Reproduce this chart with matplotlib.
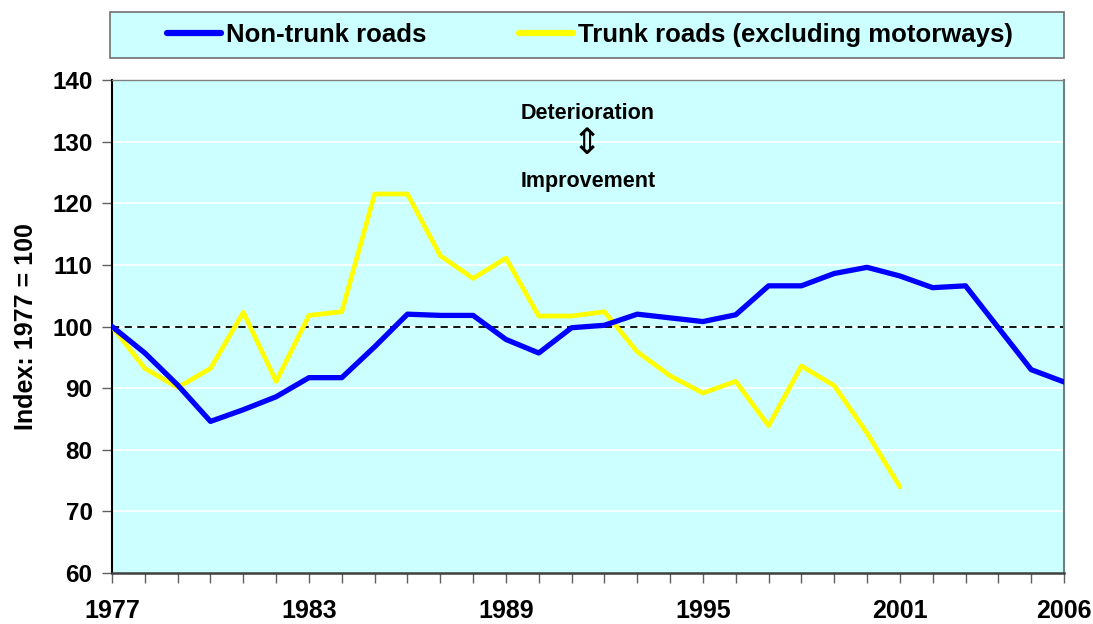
import matplotlib
matplotlib.use("Agg")
import matplotlib.pyplot as plt
from matplotlib.patches import Rectangle

years = list(range(1977, 2007))
non_trunk = [100.0, 95.7, 90.5, 84.6, 86.5, 88.6, 91.7, 91.7, 96.7, 102.0,
             101.8, 101.8, 97.9, 95.7, 99.8, 100.2, 102.0, 101.4, 100.8, 101.9,
             106.6, 106.6, 108.6, 109.6, 108.2, 106.3, 106.6, 99.8, 93.0, 91.0]
trunk_years = list(range(1977, 2002))
trunk = [100.0, 93.2, 90.1, 93.2, 102.3, 91.1, 101.8, 102.4, 121.5, 121.5,
         111.5, 107.8, 111.1, 101.7, 101.7, 102.4, 95.9, 92.0, 89.2, 91.1,
         83.9, 93.6, 90.4, 82.7, 74.0]
xtick_labels = [1977, 1983, 1989, 1995, 2001, 2006]
yticks = [60, 70, 80, 90, 100, 110, 120, 130, 140]
series_names = ["Non-trunk roads", "Trunk roads (excluding motorways)"]

plt.rcParams['font.family'] = ['Liberation Sans', 'DejaVu Sans']
plt.rcParams['font.weight'] = 'bold'

fig = plt.figure(figsize=(10.93, 6.24), dpi=100)
ax = fig.add_axes([112/1093, 1-573/624, (1064-112)/1093, (573-80)/624])
ax.set_facecolor('#CCFFFF')

for y in yticks[1:-1]:
    ax.axhline(y, color='white', lw=1.2, zorder=1)
ax.axhline(100, color='black', lw=1.3, ls=(0, (4, 3)), zorder=2)

l1, = ax.plot(years, non_trunk, color='#0000FF', lw=3.8, zorder=4,
              solid_joinstyle='round', solid_capstyle='round')
l2, = ax.plot(trunk_years, trunk, color='#FFFF00', lw=3.4, zorder=3,
              solid_joinstyle='round', solid_capstyle='round')

ax.set_xlim(1977, 2006)
ax.set_ylim(60, 140)
ax.set_yticks(yticks)
ax.set_xticks(years, minor=True)
ax.set_xticks(xtick_labels)
ax.set_xticklabels([str(v) for v in xtick_labels])
ax.tick_params(axis='x', which='both', length=7, width=1, color='#606060',
               direction='out')
ax.tick_params(axis='x', which='major', labelsize=18, pad=12)
ax.tick_params(axis='y', length=7, width=1, color='#606060', labelsize=17.5, pad=7)

for lab in ax.get_xticklabels() + ax.get_yticklabels():
    lab.set_fontweight('bold')

ax.spines['left'].set_color('black')
ax.spines['left'].set_linewidth(1.5)
ax.spines['bottom'].set_color('#404040')
ax.spines['bottom'].set_linewidth(1.8)
ax.spines['top'].set_color('#808080')
ax.spines['top'].set_linewidth(1.0)
ax.spines['right'].set_color('#708080')
ax.spines['right'].set_linewidth(1.5)

ax.set_ylabel('Index: 1977 = 100', fontsize=18, fontweight='bold', labelpad=10)

ax.text(1991.5, 134.6, 'Deterioration', ha='center', va='center',
        fontsize=15.5, fontweight='bold')
ax.text(1991.5, 123.6, 'Improvement', ha='center', va='center',
        fontsize=15.5, fontweight='bold')
ax.text(1991.45, 129.6, '\u21D5', ha='center', va='center', fontsize=26,
        family='DejaVu Sans', fontweight='normal')

# legend box
rect = Rectangle((110/1093, 1-58/624), (1064-110)/1093, 46/624,
                 transform=fig.transFigure, facecolor='#CCFFFF',
                 edgecolor='#707070', lw=1.2, zorder=0)
fig.patches.append(rect)
leg = fig.legend([l1, l2], series_names, loc='center',
                 bbox_to_anchor=(590/1093, 1-35/624), ncol=2, frameon=False,
                 prop={'size': 18.5, 'weight': 'bold'}, handlelength=2.1,
                 handletextpad=0.2, columnspacing=3.6)
for h in leg.get_lines():
    h.set_linewidth(4.5)

fig.savefig('out.png', dpi=100)
